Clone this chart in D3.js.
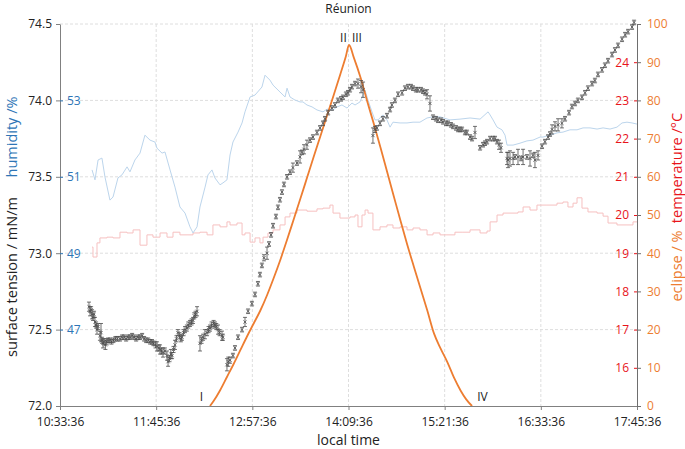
<!DOCTYPE html>
<html>
<head>
<meta charset="utf-8">
<script src="https://cdn.jsdelivr.net/npm/d3@7"></script>
<style>
  body { margin: 0; background: #fff; }
  text { font-family: "Open Sans", sans-serif; }
</style>
</head>
<body>
<svg id="chart" width="685" height="449"></svg>
<script>
// data, minutes counted from 10:33:36
const startClock = "10:33:36"
const timeTicks = ["10:33:36", "11:45:36", "12:57:36", "14:09:36", "15:21:36", "16:33:36", "17:45:36"]

const stMinutes = [21.7,22.5,23.3,24.0,24.7,25.5,26.2,27.0,27.7,28.5,29.9,30.7,31.5,32.2,33.0,34.0,35.0,36.0,37.4,38.5,40.0,41.5,43.0,44.9,46.5,48.0,49.5,51.0,52.4,54.0,55.5,57.0,58.5,59.9,61.5,63.0,64.5,66.0,67.5,68.9,70.0,71.5,72.6,74.0,74.9,76.0,77.1,78.5,80.1,80.9,82.0,83.0,83.9,85.0,86.1,87.2,88.3,89.5,90.5,91.3,92.5,93.6,95.0,96.0,97.3,98.5,99.6,100.5,101.5,102.6,
  104.8,106.0,107.1,108.5,110.1,111.2,112.3,113.5,115.0,116.0,117.0,118.3,119.5,121.3,122.0,
  125.0,126.0,127.3,129.5,131.0,133.3,136.3,138.5,140.8,143.7,146.0,148.2,149.7,151.2,152.7,155.0,156.5,158.0,159.5,161.7,163.2,164.7,166.2,167.7,170.0,172.2,174.4,177.4,179.7,181.2,182.7,184.9,187.2,189.4,192.4,194.7,196.9,198.4,200.7,203.6,205.9,208.1,210.4,211.9,214.1,215.6,217.1,218.6,220.9,223.1,225.4,226.9,
  234.3,235.8,237.3,239.6,241.8,244.8,247.1,248.5,250.8,253.1,256.1,258.3,260.5,262.8,264.3,266.5,268.0,270.3,271.8,273.3,274.8,277.0,
  279.3,281.5,283.0,285.3,286.8,289.0,290.5,292.7,294.2,296.5,298.0,299.5,301.0,303.2,304.7,307.0,308.5,310.7,
  314.5,316.7,318.2,319.7,322.0,324.2,325.7,327.2,328.7,330.2,
  334.7,335.4,336.9,339.2,340.7,342.9,345.2,346.7,349.6,351.9,354.1,355.6,357.9,
  360.9,363.1,365.4,366.9,368.4,370.6,372.9,375.8,378.1,381.1,383.3,385.6,387.8,390.8,393.1,395.3,398.3,400.5,402.8,405.8,408.0,410.3,413.3,415.5,417.8,420.8,423.1,425.3,428.3,429.8]
const stValues = [72.65,72.62,72.63,72.60,72.58,72.60,72.55,72.53,72.50,72.52,72.46,72.48,72.43,72.41,72.42,72.40,72.42,72.43,72.43,72.42,72.43,72.44,72.44,72.44,72.45,72.45,72.44,72.45,72.45,72.46,72.45,72.44,72.45,72.45,72.46,72.44,72.43,72.43,72.42,72.42,72.41,72.40,72.39,72.38,72.37,72.36,72.35,72.36,72.33,72.29,72.31,72.34,72.33,72.37,72.40,72.44,72.48,72.46,72.44,72.45,72.48,72.50,72.51,72.53,72.54,72.55,72.56,72.59,72.60,72.62,
  72.41,72.43,72.45,72.47,72.48,72.50,72.51,72.53,72.54,72.53,72.52,72.50,72.48,72.46,72.45,
  72.27,72.29,72.30,72.33,72.38,72.45,72.50,72.55,72.62,72.67,72.73,72.80,72.86,72.92,72.97,73.00,73.06,73.12,73.18,73.24,73.30,73.35,73.40,73.45,73.50,73.53,73.56,73.59,73.63,73.66,73.68,73.71,73.74,73.76,73.79,73.82,73.85,73.88,73.92,73.95,73.97,74.00,74.01,74.02,74.04,74.05,74.07,74.09,74.11,74.11,74.09,74.07,
  73.77,73.81,73.82,73.85,73.88,73.90,73.94,73.97,74.00,74.04,74.05,74.08,74.09,74.09,74.08,74.07,74.07,74.07,74.06,74.05,74.04,73.98,
  73.89,73.88,73.87,73.87,73.86,73.85,73.85,73.84,73.83,73.82,73.81,73.81,73.81,73.79,73.79,73.76,73.75,73.79,
  73.69,73.71,73.72,73.73,73.75,73.75,73.75,73.73,73.71,73.69,
  73.62,73.61,73.62,73.62,73.63,73.63,73.62,73.63,73.63,73.62,73.64,73.61,73.64,
  73.70,73.73,73.76,73.78,73.81,73.83,73.84,73.85,73.88,73.92,73.96,73.98,74.00,74.02,74.05,74.08,74.11,74.13,74.17,74.20,74.23,74.26,74.30,74.33,74.36,74.40,74.43,74.45,74.48,74.51]
const stErrors = [.03,.03,.02,.03,.02,.02,.03,.02,.03,.02,.03,.06,.02,.03,.02,.03,.02,.015,.015,.015,.015,.015,.015,.015,.015,.015,.015,.015,.015,.015,.015,.015,.015,.015,.015,.015,.015,.015,.015,.015,.015,.02,.03,.02,.03,.02,.03,.02,.03,.03,.02,.03,.02,.02,.03,.02,.02,.02,.02,.02,.02,.02,.02,.02,.02,.02,.02,.02,.02,.03,
  .05,.02,.02,.03,.02,.02,.02,.02,.02,.02,.02,.03,.02,.03,.02,
  .04,.03,.02,.015,.015,.015,.015,.03,.015,.015,.015,.015,.015,.015,.02,.04,.015,.015,.015,.015,.015,.015,.015,.015,.015,.015,.03,.015,.04,.015,.03,.03,.015,.015,.015,.015,.015,.015,.015,.015,.015,.015,.015,.015,.015,.015,.015,.015,.015,.03,.04,.05,
  .05,.02,.015,.015,.015,.015,.015,.015,.015,.015,.015,.015,.015,.015,.015,.015,.015,.015,.015,.015,.03,.05,
  .015,.015,.015,.015,.015,.015,.015,.015,.015,.015,.015,.015,.015,.015,.015,.015,.015,.04,
  .015,.015,.015,.015,.015,.015,.015,.015,.03,.03,
  .04,.05,.05,.04,.015,.05,.015,.05,.015,.05,.015,.05,.03,
  .015,.015,.015,.015,.03,.03,.04,.03,.015,.015,.015,.015,.015,.015,.015,.015,.015,.015,.015,.015,.015,.015,.015,.015,.015,.015,.015,.015,.015,.015]

const humMinutes = [24.0,26.2,28.5,31.4,33.7,37.4,39.7,43.4,46.4,50.2,52.4,56.1,59.9,63.6,67.4,71.1,72.6,76.4,78.6,82.4,86.1,89.8,93.6,97.3,99.6,102.6,104.8,108.6,110.8,113.8,116.0,119.8,122.0,125.0,127.3,129.5,133.3,136.3,138.5,142.3,146.0,151.2,153.5,157.2,159.5,164.7,168.5,170.0,172.2,175.9,179.7,181.9,184.9,188.7,192.4,196.9,199.9,204.4,207.4,211.1,214.9,218.6,220.9,224.6,228.4,230.6,233.6,235.8,238.1,241.8,244.8,247.1,249.3,254.6,259.8,264.3,269.5,274.8,279.3,284.5,292.0,299.5,307.0,314.5,320.5,322.0,324.2,327.2,330.9,333.2,334.7,339.2,344.4,349.6,354.1,359.4,361.6,366.9,372.1,376.6,381.8,387.1,391.6,396.8,402.1,406.6,411.8,417.0,420.8,424.5,428.3,432.0]
const humValues = [51.18,50.92,51.44,51.49,50.99,50.39,50.47,50.97,51.05,51.26,51.13,51.44,51.62,52.09,51.96,51.91,51.75,51.62,51.65,51.18,50.73,50.21,50.05,49.69,49.53,49.69,50.21,50.73,51.05,51.18,50.97,50.79,50.84,50.92,51.57,51.91,52.17,52.41,52.70,53.09,53.14,53.35,53.66,53.53,53.40,53.22,53.09,53.32,53.09,53.01,52.96,52.96,52.88,52.83,52.75,52.70,52.77,52.75,52.83,52.88,52.80,52.93,52.88,52.96,53.27,53.01,52.70,52.49,52.49,52.62,52.49,52.30,52.43,52.41,52.41,52.43,52.43,52.54,52.57,52.57,52.49,52.51,52.54,52.51,52.70,52.62,52.49,52.30,52.23,52.09,51.83,51.83,51.88,51.94,51.96,52.04,52.04,52.09,52.15,52.17,52.23,52.23,52.28,52.28,52.25,52.28,52.25,52.30,52.41,52.43,52.41,52.38]

const tempMinutes = [24.0,24.7,27.7,29.9,35.2,39.7,44.9,50.2,54.7,59.9,65.1,69.6,74.9,80.1,84.6,89.8,95.1,99.6,104.8,110.1,114.5,119.8,125.0,127.3,132.5,136.3,138.5,142.3,146.0,149.7,152.0,155.7,159.5,164.7,168.5,172.2,177.4,184.9,192.4,196.9,202.1,204.4,209.6,214.9,217.1,220.9,223.1,226.1,228.4,230.6,234.3,239.6,244.8,249.3,254.6,259.8,264.3,269.5,274.8,279.3,284.5,289.7,295.7,301.7,307.0,314.5,319.7,322.0,327.2,331.7,342.9,346.7,351.9,357.1,364.6,372.1,376.6,380.3,384.1,387.1,390.8,395.3,402.1,406.6,410.3,417.0,424.5,429.0,432.0]
const tempValues = [19.16,18.90,19.27,19.40,19.42,19.40,19.55,19.53,19.61,19.21,19.48,19.42,19.53,19.42,19.55,19.48,19.48,19.53,19.55,19.48,19.74,19.69,19.82,19.74,19.79,19.48,19.53,19.29,19.40,19.27,19.42,19.53,19.61,19.74,19.95,20.05,20.13,20.10,20.16,20.18,20.26,20.05,19.92,19.92,19.95,20.00,19.69,20.00,20.13,20.05,19.61,19.69,19.74,19.66,19.69,19.61,19.66,19.61,19.48,19.53,19.48,19.48,19.55,19.55,19.61,19.53,19.58,19.82,20.00,20.05,20.08,20.21,20.13,20.26,20.26,20.31,20.34,20.21,20.31,20.45,20.18,20.08,20.05,19.97,19.79,19.74,19.74,19.82,19.82]

const eclMinutes = [112.3,115,120,125,130,135,140,145,150,155,160,165,170,175,180,185,190,195,200,205,210,214,216.4,
  220,225,230,235,240,245,250,255,260,265,270,275,280,285,290,295,300,304,308.5]
const eclValues = [0,1.3,4.2,7.6,11.0,14.6,18.2,21.6,25.0,29.0,33.5,38.3,43.5,48.9,54.3,59.8,65.3,70.7,76.1,81.5,87.0,91.5,94.5,
  91.2,86.0,79.8,73.8,67.6,61.2,54.8,48.4,42.2,36.4,30.7,25.0,19.0,15.0,11.5,7.4,4.0,1.8,0]

const contactLabels = ["I", "II", "III", "IV"]
const contactMinutes = [105.8, 212.2, 222.3, 316.3]
const contactEclipse = [1.3, 95.3, 95.3, 1.3]

const stTicks = [72.0, 72.5, 73.0, 73.5, 74.0, 74.5]
const humTicks = [47, 49, 51, 53]
const tempTicks = [16, 17, 18, 19, 20, 21, 22, 23, 24]
const eclTicks = [0, 10, 20, 30, 40, 50, 60, 70, 80, 90, 100]

// layout
const margin = { top: 24, right: 48, bottom: 43, left: 60 },
  outerWidth = 685,
  outerHeight = 449,
  width = outerWidth - margin.left - margin.right,
  height = outerHeight - margin.top - margin.bottom

const parseClock = d3.timeParse("%H:%M:%S")
const t0 = parseClock(startClock)
const toDate = m => new Date(t0.getTime() + m * 60000)

const xScale = d3.scaleTime()
  .domain([t0, parseClock(timeTicks[timeTicks.length - 1])])
  .range([0, width])
const yST = d3.scaleLinear().domain([72, 74.5]).range([height, 0])
const yHum = d3.scaleLinear().domain([45, 55]).range([height, 0])
const yTemp = d3.scaleLinear().domain([15, 25]).range([height, 0])
const yEcl = d3.scaleLinear().domain([0, 100]).range([height, 0])

const blue = "#2e75b6", red = "#e8141b", orange = "#ed7d31", axisGrey = "#808080"

const svg = d3.select("#chart")
  .append("g")
  .attr("transform", "translate(" + margin.left + "," + margin.top + ")")

// grid lines
svg.append("g")
  .selectAll("line")
  .data(stTicks.slice(1))
  .enter()
  .append("line")
  .attr("x1", 0).attr("x2", width)
  .attr("y1", d => yST(d)).attr("y2", d => yST(d))
  .attr("stroke", "#dedede").attr("stroke-dasharray", "3,2")
svg.append("g")
  .selectAll("line")
  .data(timeTicks.slice(1, -1))
  .enter()
  .append("line")
  .attr("x1", d => xScale(parseClock(d))).attr("x2", d => xScale(parseClock(d)))
  .attr("y1", 0).attr("y2", height)
  .attr("stroke", "#dedede").attr("stroke-dasharray", "3,2")

// temperature and humidity
const tempLine = d3.line()
  .x((d, i) => xScale(toDate(tempMinutes[i])))
  .y(d => yTemp(d))
  .curve(d3.curveStepAfter)
svg.append("path")
  .datum(tempValues)
  .attr("d", tempLine)
  .attr("fill", "none")
  .attr("stroke", "#f6c0c0")
  .attr("stroke-width", 1)

const humLine = d3.line()
  .x((d, i) => xScale(toDate(humMinutes[i])))
  .y(d => yHum(d))
svg.append("path")
  .datum(humValues)
  .attr("d", humLine)
  .attr("fill", "none")
  .attr("stroke", "#bcd5ec")
  .attr("stroke-width", 1)

// eclipse curve
const eclLine = d3.line()
  .x((d, i) => xScale(toDate(eclMinutes[i])))
  .y(d => yEcl(d))
  .curve(d3.curveMonotoneX)
svg.append("path")
  .datum(eclValues)
  .attr("d", eclLine)
  .attr("fill", "none")
  .attr("stroke", orange)
  .attr("stroke-width", 1.8)

// surface tension points with error bars
const pts = svg.append("g")
  .attr("stroke", "#4d4d4d")
  .attr("stroke-width", 0.8)
  .selectAll("g")
  .data(stValues)
  .enter()
  .append("g")
  .attr("transform", (d, i) => "translate(" + xScale(toDate(stMinutes[i])) + ",0)")
pts.append("line")
  .attr("y1", (d, i) => yST(d - stErrors[i]))
  .attr("y2", (d, i) => yST(d + stErrors[i]))
pts.append("line")
  .attr("x1", -2).attr("x2", 2)
  .attr("y1", (d, i) => yST(d - stErrors[i]))
  .attr("y2", (d, i) => yST(d - stErrors[i]))
pts.append("line")
  .attr("x1", -2).attr("x2", 2)
  .attr("y1", (d, i) => yST(d + stErrors[i]))
  .attr("y2", (d, i) => yST(d + stErrors[i]))
pts.append("path")
  .attr("d", d => {
    const y = yST(d)
    return "M-1.6," + (y - 1.6) + "L1.6," + (y + 1.6) + "M-1.6," + (y + 1.6) + "L1.6," + (y - 1.6)
  })

// contact labels
svg.append("g")
  .selectAll("text")
  .data(contactLabels)
  .enter()
  .append("text")
  .attr("x", (d, i) => xScale(toDate(contactMinutes[i])))
  .attr("y", (d, i) => yEcl(contactEclipse[i]))
  .attr("text-anchor", "middle")
  .attr("font-size", 12)
  .attr("fill", "#222")
  .text(d => d)

// axes
const styleAxis = (g, color, textColor) => {
  g.selectAll(".domain").attr("stroke", color)
  g.selectAll(".tick line").attr("stroke", color)
  g.selectAll(".tick text").attr("fill", textColor).attr("font-size", 12)
    .attr("font-family", "'Open Sans', sans-serif")
}

svg.append("g")
  .attr("transform", "translate(0," + height + ")")
  .call(d3.axisBottom(xScale).tickValues(timeTicks.map(parseClock))
    .tickFormat(d3.timeFormat("%H:%M:%S")).tickSize(4).tickSizeOuter(0).tickPadding(7))
  .call(g => styleAxis(g, axisGrey, "#222"))

svg.append("g")
  .call(d3.axisLeft(yST).tickValues(stTicks).tickFormat(d3.format(".1f")).tickSize(4).tickSizeOuter(0).tickPadding(4))
  .call(g => styleAxis(g, axisGrey, "#222"))

svg.append("g")
  .call(d3.axisRight(yHum).tickValues(humTicks).tickSize(3).tickPadding(4))
  .call(g => { g.select(".domain").remove(); styleAxis(g, blue, blue) })

svg.append("g")
  .attr("transform", "translate(" + width + ",0)")
  .call(d3.axisLeft(yTemp).tickValues(tempTicks).tickSize(3).tickPadding(5))
  .call(g => { g.select(".domain").remove(); styleAxis(g, red, red) })

svg.append("g")
  .attr("transform", "translate(" + width + ",0)")
  .call(d3.axisRight(yEcl).tickValues(eclTicks).tickSize(4).tickSizeOuter(0).tickPadding(6))
  .call(g => styleAxis(g, "#6e6e6e", orange))

// titles
const root = d3.select("#chart")
root.append("text")
  .attr("x", margin.left + width / 2).attr("y", 13)
  .attr("text-anchor", "middle").attr("font-size", 12).attr("fill", "#222")
  .text("Réunion")
root.append("text")
  .attr("x", margin.left + width / 2).attr("y", 445)
  .attr("text-anchor", "middle").attr("font-size", 14).attr("fill", "#222")
  .text("local time")
root.append("text")
  .attr("transform", "translate(17,277) rotate(-90)")
  .attr("text-anchor", "middle").attr("font-size", 14.5).attr("fill", "#222")
  .text("surface tension / mN/m")
root.append("text")
  .attr("transform", "translate(17,137) rotate(-90)")
  .attr("text-anchor", "middle").attr("font-size", 14.5).attr("fill", blue)
  .text("humidity /%")
root.append("text")
  .attr("transform", "translate(682,168) rotate(-90)")
  .attr("text-anchor", "middle").attr("font-size", 14.5).attr("fill", red)
  .text("temperature /°C")
root.append("text")
  .attr("transform", "translate(682,266) rotate(-90)")
  .attr("text-anchor", "middle").attr("font-size", 14.5).attr("fill", orange)
  .text("eclipse / %")
</script>
</body>
</html>
